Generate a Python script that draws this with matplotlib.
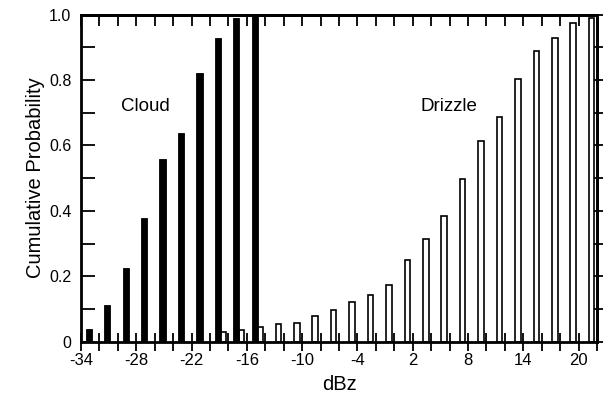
import numpy as np
import matplotlib
matplotlib.use("Agg")
import matplotlib.pyplot as plt
from matplotlib.ticker import FixedLocator, FixedFormatter

# Bin centres (dBz) and cumulative probabilities
cloud_dbz = [-33, -31, -29, -27, -25, -23, -21, -19, -17, -15]
cloud_cum = [0.038, 0.112, 0.226, 0.377, 0.559, 0.639, 0.821, 0.928, 0.99, 1.0]

drizzle_dbz = [-19, -17, -15, -13, -11, -9, -7, -5, -3, -1, 1, 3, 5, 7,
               9, 11, 13, 15, 17, 19, 21]
drizzle_cum = [0.03, 0.035, 0.044, 0.054, 0.057, 0.078, 0.097, 0.121, 0.143,
               0.173, 0.250, 0.313, 0.384, 0.496, 0.615, 0.688, 0.803, 0.890,
               0.927, 0.974, 0.989]

x_tick_labels = ["-34", "-28", "-22", "-16", "-10", "-4", "2", "8", "14", "20"]
y_tick_labels = ["0", "0.2", "0.4", "0.6", "0.8", "1.0"]

plt.rcParams["font.family"] = ["Liberation Sans", "DejaVu Sans"]

fig = plt.figure(figsize=(6.05, 3.95), dpi=100)
ax = fig.add_axes([0.1339, 0.1352, 0.8529, 0.8278])

# Open bars for drizzle, filled bars for cloud (drawn on top)
ax.bar(np.array(drizzle_dbz) + 0.42, drizzle_cum, width=0.6,
       facecolor="white", edgecolor="black", linewidth=1.2, zorder=2)
ax.bar(np.array(cloud_dbz) - 0.15, cloud_cum, width=0.68,
       facecolor="black", edgecolor="black", linewidth=0.6, zorder=3)

ax.set_xlim(-34, 22)
ax.set_ylim(0, 1.0)

# x ticks every 2 dBz, labelled every 6
xt = np.arange(-34, 23, 2)
xlab = []
for v in xt:
    s = str(int(v))
    xlab.append(s if s in x_tick_labels else "")
ax.xaxis.set_major_locator(FixedLocator(xt))
ax.xaxis.set_major_formatter(FixedFormatter(xlab))

yt = np.round(np.arange(0, 1.01, 0.1), 2)
ylab = []
for v in yt:
    s = "0" if v == 0 else f"{v:.1f}"
    ylab.append(s if s in y_tick_labels else "")
ax.yaxis.set_major_locator(FixedLocator(yt))
ax.yaxis.set_major_formatter(FixedFormatter(ylab))

ax.tick_params(axis="x", which="both", direction="inout", length=13,
               width=1.3, labelsize=12, pad=2, top=False)
ax.tick_params(axis="y", which="both", direction="in", length=10,
               width=1.3, labelsize=11.5, pad=7, right=False)

# inward ticks along the top and right edges
secx = ax.secondary_xaxis("top")
secx.xaxis.set_major_locator(FixedLocator(xt))
secx.tick_params(direction="in", length=8, width=1.3, labeltop=False)
secy = ax.secondary_yaxis("right")
secy.yaxis.set_major_locator(FixedLocator(yt))
secy.tick_params(direction="inout", length=9, width=1.3, labelright=False)

for sp in ax.spines.values():
    sp.set_linewidth(2)
secx.spines["top"].set_linewidth(2)
secy.spines["right"].set_linewidth(2)

ax.set_xlabel("dBz", fontsize=14.5, labelpad=4.5)
ax.set_ylabel("Cumulative Probability", fontsize=14.5, labelpad=2.5)

ax.text(-27.0, 0.72, "Cloud", fontsize=13.5, ha="center", va="center")
ax.text(5.9, 0.72, "Drizzle", fontsize=13.5, ha="center", va="center")

fig.savefig("out.png", dpi=100)
